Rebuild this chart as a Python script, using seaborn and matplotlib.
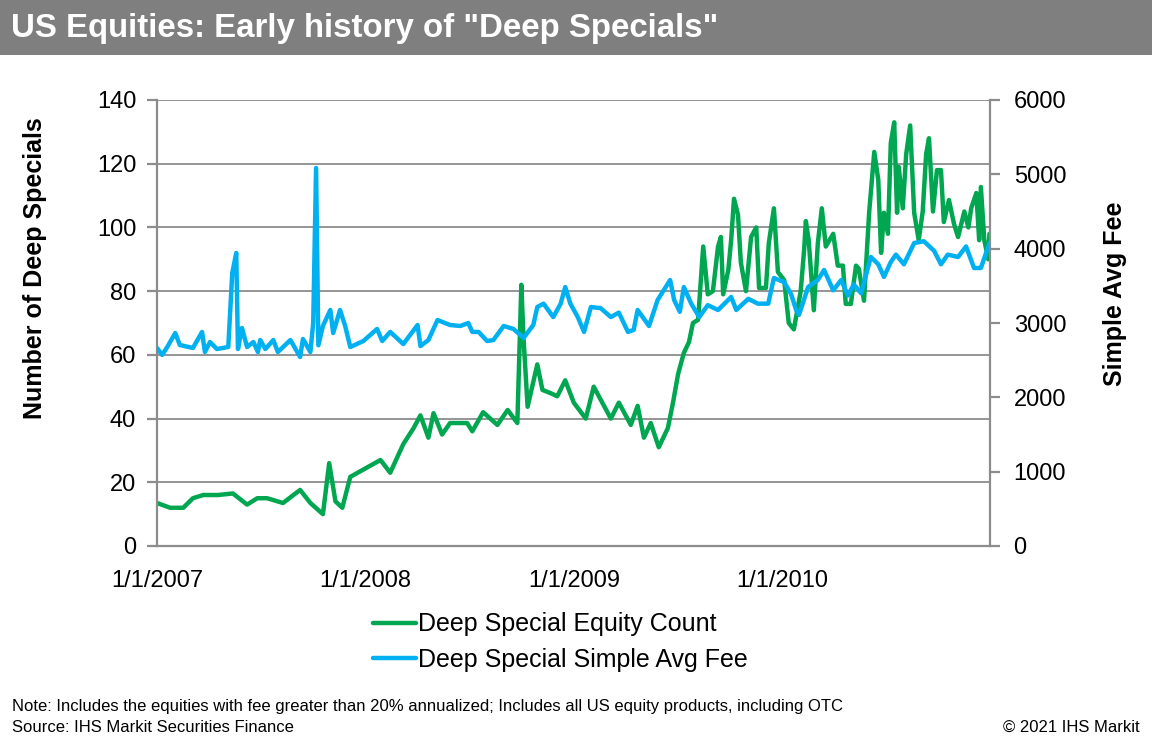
import matplotlib
matplotlib.use("Agg")
import matplotlib.pyplot as plt
import seaborn as sns
import pandas as pd

# Deep Special Equity Count (left axis)
count_dates = [
    "2007-01-01", "2007-01-24", "2007-02-16", "2007-03-05", "2007-03-23", "2007-04-18",
    "2007-05-14", "2007-06-08", "2007-06-26", "2007-07-13", "2007-08-10", "2007-09-09",
    "2007-09-27", "2007-10-19", "2007-10-30", "2007-11-10", "2007-11-22", "2007-12-06",
    "2007-12-29", "2008-01-28", "2008-02-14", "2008-03-08", "2008-03-26", "2008-04-07",
    "2008-04-21", "2008-04-30", "2008-05-15", "2008-05-29", "2008-06-28", "2008-07-07",
    "2008-07-26", "2008-08-20", "2008-09-07", "2008-09-24", "2008-10-01", "2008-10-05",
    "2008-10-12", "2008-10-29", "2008-11-07", "2008-11-21", "2008-12-03", "2008-12-17",
    "2009-01-01", "2009-01-22", "2009-02-05", "2009-02-17", "2009-03-07", "2009-03-21",
    "2009-04-11", "2009-04-23", "2009-05-04", "2009-05-16", "2009-05-30", "2009-06-15",
    "2009-06-24", "2009-07-03", "2009-07-13", "2009-07-22", "2009-07-29", "2009-08-07",
    "2009-08-16", "2009-08-24", "2009-09-02", "2009-09-11", "2009-09-16", "2009-09-20",
    "2009-09-29", "2009-10-04", "2009-10-09", "2009-10-16", "2009-10-21", "2009-10-30",
    "2009-11-08", "2009-11-17", "2009-11-22", "2009-12-04", "2009-12-09", "2009-12-18",
    "2009-12-25", "2010-01-05", "2010-01-13", "2010-01-22", "2010-02-03", "2010-02-09",
    "2010-02-12", "2010-02-17", "2010-02-26", "2010-03-05", "2010-03-12", "2010-03-19",
    "2010-04-01", "2010-04-09", "2010-04-18", "2010-04-23", "2010-05-02", "2010-05-11",
    "2010-05-16", "2010-05-25", "2010-06-03", "2010-06-12", "2010-06-19", "2010-06-24",
    "2010-06-29", "2010-07-06", "2010-07-11", "2010-07-17", "2010-07-22", "2010-07-25",
    "2010-08-01", "2010-08-07", "2010-08-14", "2010-08-21", "2010-08-29", "2010-09-05",
    "2010-09-11", "2010-09-16", "2010-09-23", "2010-09-30", "2010-10-07", "2010-10-12",
    "2010-10-21", "2010-10-30", "2010-11-06", "2010-11-17", "2010-11-24", "2010-11-29",
    "2010-12-08", "2010-12-13", "2010-12-16", "2010-12-22", "2010-12-29", "2010-12-31",
]
count_values = [
    13.5, 12, 12, 15, 16, 16,
    16.5, 13, 15, 15, 13.5, 17.6,
    13.5, 10, 26, 14, 12, 21.7,
    24, 27, 23, 32, 37, 41,
    34, 41.7, 35, 38.6, 38.6, 36,
    42, 38, 42.7, 38.6, 82, 64.7,
    43.7, 57, 49, 48, 47, 52,
    45, 40, 50, 46, 40, 45,
    38, 44, 34, 38.6, 31, 37,
    45, 54, 60.6, 64, 70, 71,
    94, 79, 80, 94, 97, 79,
    86.6, 96, 109, 104, 89, 80,
    97, 100, 81, 81, 95, 106,
    86, 83.5, 70, 68, 80, 93,
    102, 96, 74, 95, 106, 94,
    98, 88, 88, 76, 76, 88,
    87, 77, 104.6, 123.7, 115, 92,
    104.6, 98, 126.5, 133, 104.6, 119,
    106, 123, 132, 104.6, 96, 105,
    123, 128, 105, 118, 118, 101.7,
    108.6, 101, 97, 105, 100, 106,
    110.8, 96, 112.7, 96, 90, 98,
]

# Deep Special Simple Avg Fee (right axis)
fee_dates = [
    "2007-01-01", "2007-01-10", "2007-01-19", "2007-02-02", "2007-02-10", "2007-03-05",
    "2007-03-21", "2007-03-26", "2007-04-04", "2007-04-16", "2007-05-06", "2007-05-13",
    "2007-05-20", "2007-05-23", "2007-05-30", "2007-06-08", "2007-06-19", "2007-06-27",
    "2007-07-01", "2007-07-10", "2007-07-24", "2007-08-01", "2007-08-23", "2007-09-09",
    "2007-09-14", "2007-09-27", "2007-10-02", "2007-10-07", "2007-10-11", "2007-10-19",
    "2007-11-01", "2007-11-06", "2007-11-18", "2007-11-27", "2007-12-06", "2007-12-29",
    "2008-01-22", "2008-01-31", "2008-02-14", "2008-03-08", "2008-04-02", "2008-04-07",
    "2008-04-21", "2008-05-07", "2008-05-29", "2008-06-16", "2008-06-30", "2008-07-07",
    "2008-07-18", "2008-08-02", "2008-08-13", "2008-08-31", "2008-09-17", "2008-10-05",
    "2008-10-22", "2008-10-29", "2008-11-09", "2008-11-26", "2008-12-09", "2008-12-17",
    "2008-12-26", "2009-01-08", "2009-01-19", "2009-01-31", "2009-02-17", "2009-03-07",
    "2009-03-21", "2009-04-06", "2009-04-16", "2009-04-23", "2009-05-13", "2009-05-28",
    "2009-06-08", "2009-06-19", "2009-06-26", "2009-07-06", "2009-07-13", "2009-07-26",
    "2009-08-09", "2009-08-24", "2009-09-11", "2009-10-04", "2009-10-13", "2009-11-03",
    "2009-11-20", "2009-12-08", "2009-12-18", "2010-01-05", "2010-01-17", "2010-01-26",
    "2010-01-31", "2010-02-16", "2010-03-05", "2010-03-16", "2010-04-01", "2010-04-15",
    "2010-04-27", "2010-05-07", "2010-05-20", "2010-06-06", "2010-06-19", "2010-06-29",
    "2010-07-11", "2010-07-20", "2010-08-03", "2010-08-21", "2010-09-07", "2010-09-25",
    "2010-10-07", "2010-10-19", "2010-11-06", "2010-11-20", "2010-12-04", "2010-12-16",
    "2010-12-29", "2010-12-31",
]
fee_values = [
    2664, 2570, 2677, 2865, 2704, 2664,
    2879, 2610, 2744, 2650, 2677, 3673,
    3942, 2650, 2933, 2677, 2744, 2610,
    2771, 2650, 2771, 2610, 2771, 2543,
    2785, 2610, 3000, 5085, 2700, 2960,
    3175, 2865, 3175, 2960, 2677, 2758,
    2920, 2758, 2880, 2717, 2973, 2690,
    2771, 3040, 2973, 2960, 3000, 2880,
    2880, 2758, 2771, 2960, 2920, 2800,
    2973, 3215, 3260, 3080, 3260, 3484,
    3260, 3080, 2880, 3215, 3200, 3080,
    3140, 2880, 2906, 3175, 2960, 3310,
    3444, 3578, 3310, 3150, 3484, 3260,
    3080, 3240, 3175, 3350, 3175, 3325,
    3260, 3260, 3605, 3550, 3390, 3175,
    3110, 3484, 3578, 3713, 3440, 3578,
    3370, 3520, 3400, 3888, 3790, 3620,
    3820, 3920, 3790, 4076, 4100, 3970,
    3790, 3920, 3888, 4030, 3740, 3740,
    4030, 4076,
]

left_ticks = [0, 20, 40, 60, 80, 100, 120, 140]
right_ticks = [0, 1000, 2000, 3000, 4000, 5000, 6000]
year_ticks = ["2007-01-01", "2008-01-01", "2009-01-01", "2010-01-01", "2011-01-01"]
year_labels = ["1/1/2007", "1/1/2008", "1/1/2009", "1/1/2010", ""]

GREEN = "#00A650"
BLUE = "#00B0F0"
GRID = "#8C8C8C"

sns.set_style("white")
plt.rcParams["font.family"] = ["Liberation Sans", "DejaVu Sans"]
plt.rcParams["text.color"] = "black"
plt.rcParams["axes.labelcolor"] = "black"

count_df = pd.DataFrame({"date": pd.to_datetime(count_dates), "count": count_values})
fee_df = pd.DataFrame({"date": pd.to_datetime(fee_dates), "fee": fee_values})

fig = plt.figure(figsize=(11.52, 7.49), dpi=100)

# title bar
fig.patches.append(plt.Rectangle((0, 1 - 55 / 749), 1, 55 / 749, transform=fig.transFigure,
                                 facecolor="#7F7F7F", edgecolor="none", zorder=0))
fig.text(11 / 1152, 1 - 29 / 749, 'US Equities: Early history of "Deep Specials"',
         color="white", fontsize=23.8, fontweight="bold", va="center", ha="left")

ax = fig.add_axes([157 / 1152, 1 - 546 / 749, 833 / 1152, 446 / 749])
ax2 = ax.twinx()

sns.lineplot(data=count_df, x="date", y="count", ax=ax, color=GREEN, linewidth=3.2,
             label="Deep Special Equity Count", legend=False)
sns.lineplot(data=fee_df, x="date", y="fee", ax=ax2, color=BLUE, linewidth=3.2,
             label="Deep Special Simple Avg Fee", legend=False)

ax.set_xlim(pd.Timestamp("2007-01-01"), pd.Timestamp("2011-01-01"))
ax.set_ylim(0, 140)
ax2.set_ylim(0, 6000)
ax.set_yticks(left_ticks)
ax2.set_yticks(right_ticks)
ax.set_xticks(pd.to_datetime(year_ticks))
ax.set_xticklabels(year_labels)

ax.grid(axis="y", color=GRID, linewidth=1.3)
ax.set_axisbelow(True)
for a in (ax, ax2):
    for side, sp in a.spines.items():
        sp.set_color(GRID)
        sp.set_linewidth(1.6)
    a.spines["top"].set_visible(False)
ax.spines["right"].set_visible(False)
ax2.spines["left"].set_visible(False)
ax2.spines["bottom"].set_visible(False)

ax.tick_params(axis="y", direction="out", length=7, width=1.6, color=GRID,
               labelcolor="black", labelsize=17, pad=8)
ax.tick_params(axis="x", direction="out", length=8, width=1.2, color=GRID,
               labelcolor="black", labelsize=17, pad=9)
ax2.tick_params(axis="y", direction="out", length=7, width=1.6, color=GRID,
                labelcolor="black", labelsize=17, pad=10)

ax.set_xlabel("")
ax.set_ylabel("Number of Deep Specials", fontsize=18, fontweight="bold")
ax2.set_ylabel("Simple Avg Fee", fontsize=18, fontweight="bold")
ax.yaxis.set_label_coords(-(157 - 47) / 833, (546 - 268) / 446)
ax2.yaxis.set_label_coords(1 + (1103 - 990) / 833, (546 - 294) / 446)

# legend below the plot
handles = ax.get_lines()[:1] + ax2.get_lines()[:1]
fig.legend(handles, [h.get_label() for h in handles], loc="center",
           bbox_to_anchor=(560 / 1152, 1 - 642 / 749), frameon=False, fontsize=18,
           handlelength=1.75, handletextpad=0.05, labelspacing=0.45)

fig.text(12 / 1152, 1 - 707 / 749,
         "Note: Includes the equities with fee greater than 20% annualized; "
         "Includes all US equity products, including OTC",
         fontsize=12, va="center", ha="left")
fig.text(12 / 1152, 1 - 727 / 749, "Source: IHS Markit Securities Finance",
         fontsize=12, va="center", ha="left")
fig.text(1140 / 1152, 1 - 727 / 749, "\u00a9 2021 IHS Markit",
         fontsize=12, va="center", ha="right")

fig.savefig("out.png", dpi=100)
